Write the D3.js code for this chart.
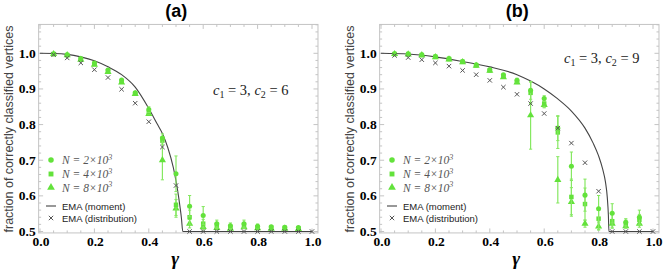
<!DOCTYPE html>
<html>
<head>
<meta charset="utf-8">
<script src="https://cdn.jsdelivr.net/npm/d3@7"></script>
<style>
  body { margin: 0; background: #fff; }
  svg { display: block; }
</style>
</head>
<body>
<div id="chart"></div>
<script>
// gamma values of the simulation points
const gammaSim = [0.05, 0.1, 0.15, 0.2, 0.25, 0.3, 0.35, 0.4, 0.45, 0.5, 0.55, 0.6, 0.65, 0.7, 0.75, 0.8, 0.85, 0.9, 0.95];
const gammaDist = [0.05, 0.1, 0.15, 0.2, 0.25, 0.3, 0.35, 0.4, 0.45, 0.5, 0.55, 0.6, 0.65, 0.7, 0.75, 0.8, 0.85, 0.9, 0.95, 1.0];

// panel (a): c1 = 3, c2 = 6
const aN2 = [0.998, 0.996, 0.985, 0.973, 0.953, 0.925, 0.889, 0.842, 0.762, 0.662, 0.571, 0.545, 0.522, 0.516, 0.522, 0.515, 0.513, 0.512, 0.511];
const aN2err = [0.001, 0.002, 0.003, 0.003, 0.004, 0.004, 0.005, 0.008, 0.012, 0.05, 0.03, 0.025, 0.01, 0.008, 0.01, 0.006, 0.005, 0.004, 0.004];
const aN4 = [0.998, 0.995, 0.983, 0.970, 0.950, 0.921, 0.887, 0.835, 0.755, 0.575, 0.540, 0.522, 0.517, 0.512, 0.517, 0.512, 0.511, 0.510, 0.509];
const aN4err = [0.001, 0.002, 0.002, 0.003, 0.003, 0.004, 0.004, 0.006, 0.01, 0.03, 0.02, 0.012, 0.008, 0.006, 0.008, 0.005, 0.004, 0.004, 0.003];
const aN8 = [0.998, 0.995, 0.982, 0.968, 0.948, 0.918, 0.886, 0.830, 0.700, 0.565, 0.522, 0.513, 0.510, 0.508, 0.512, 0.509, 0.508, 0.508, 0.507];
const aN8err = [0.001, 0.001, 0.002, 0.002, 0.003, 0.003, 0.003, 0.005, 0.055, 0.025, 0.012, 0.008, 0.005, 0.004, 0.005, 0.004, 0.003, 0.003, 0.003];
const aDist = [0.996, 0.987, 0.973, 0.954, 0.932, 0.899, 0.860, 0.808, 0.737, 0.629, 0.5, 0.5, 0.5, 0.5, 0.5, 0.5, 0.5, 0.5, 0.5, 0.5];
const aMomentGamma = [0, 0.05, 0.1, 0.15, 0.2, 0.25, 0.3, 0.35, 0.4, 0.43, 0.45, 0.47, 0.49, 0.5, 0.51, 0.52, 0.525, 1.0];
const aMoment = [1.0, 0.9995, 0.997, 0.99, 0.979, 0.962, 0.94, 0.905, 0.845, 0.803, 0.775, 0.735, 0.68, 0.642, 0.595, 0.537, 0.5, 0.5];

// panel (b): c1 = 3, c2 = 9
const bN2 = [0.999, 0.998, 0.996, 0.991, 0.985, 0.977, 0.968, 0.954, 0.940, 0.924, 0.896, 0.873, 0.790, 0.683, 0.602, 0.564, 0.551, 0.526, 0.540];
const bN2err = [0.001, 0.001, 0.002, 0.002, 0.003, 0.003, 0.003, 0.004, 0.005, 0.006, 0.025, 0.008, 0.035, 0.04, 0.045, 0.037, 0.027, 0.01, 0.02];
const bN4 = [0.998, 0.998, 0.995, 0.990, 0.984, 0.976, 0.966, 0.952, 0.935, 0.920, 0.889, 0.859, 0.778, 0.597, 0.577, 0.536, 0.529, 0.522, 0.533];
const bN4err = [0.001, 0.001, 0.002, 0.002, 0.002, 0.003, 0.003, 0.004, 0.004, 0.005, 0.03, 0.01, 0.045, 0.05, 0.045, 0.03, 0.02, 0.01, 0.015];
const bN8 = [0.998, 0.997, 0.995, 0.989, 0.983, 0.975, 0.965, 0.951, 0.933, 0.918, 0.826, 0.855, 0.645, 0.583, 0.522, 0.514, 0.522, 0.515, 0.522];
const bN8err = [0.001, 0.001, 0.001, 0.002, 0.002, 0.002, 0.003, 0.003, 0.004, 0.005, 0.095, 0.008, 0.065, 0.04, 0.01, 0.01, 0.01, 0.006, 0.01];
const bDist = [0.994, 0.988, 0.982, 0.973, 0.964, 0.952, 0.940, 0.924, 0.905, 0.885, 0.859, 0.831, 0.790, 0.748, 0.693, 0.613, 0.5, 0.5, 0.5, 0.5];
const bMomentGamma = [0, 0.1, 0.2, 0.3, 0.4, 0.5, 0.55, 0.6, 0.65, 0.7, 0.75, 0.78, 0.8, 0.815, 0.825, 0.832, 0.836, 0.838, 1.0];
const bMoment = [1.0, 0.998, 0.99, 0.977, 0.962, 0.94, 0.922, 0.9, 0.872, 0.838, 0.79, 0.748, 0.712, 0.675, 0.64, 0.595, 0.545, 0.5, 0.5];

// ticks and labels
const xTicks = [0, 0.2, 0.4, 0.6, 0.8, 1.0];
const yTicks = [0.5, 0.6, 0.7, 0.8, 0.9, 1.0];
const legendLabels = ["2×10", "4×10", "8×10"];
const titles = ["(a)", "(b)"];
const c2Values = ["6", "9"];

const W = 664, H = 270;
const green = "#63e23b", greenErr = "#86e862", grey = "#555";
const serif = "'Liberation Serif', 'Times New Roman', serif";
const sans = "'Liberation Sans', Arial, sans-serif";

const svg = d3.select("#chart").append("svg")
  .attr("width", W).attr("height", H);

function drawPanel(i, left, sims, dist, momentG, moment) {
  const x = d3.scaleLinear().domain([0, 1]).range([left, left + 272]);
  const y = d3.scaleLinear().domain([0.5, 1.0]).range([231.5, 53.3]);
  const x0 = x(-0.005), x1 = x(1.022), y0 = y(0.496), y1 = y(1.081);

  const g = svg.append("g");

  // frame
  g.append("rect")
    .attr("x", x0).attr("y", y1)
    .attr("width", x1 - x0).attr("height", y0 - y1)
    .attr("fill", "none").attr("stroke", "#c4c4c4").attr("stroke-width", 1);

  // ticks on all four sides
  const xMinor = d3.range(0, 1.0001, 0.05);
  const yMinor = d3.range(0.5, 1.0801, 0.02);
  xMinor.forEach(v => {
    const major = Math.abs(v / 0.2 - Math.round(v / 0.2)) < 1e-6;
    const len = major ? 4.5 : 2.5;
    g.append("line").attr("x1", x(v)).attr("x2", x(v)).attr("y1", y0).attr("y2", y0 - len)
      .attr("stroke", "#c4c4c4");
    g.append("line").attr("x1", x(v)).attr("x2", x(v)).attr("y1", y1).attr("y2", y1 + len)
      .attr("stroke", "#c4c4c4");
  });
  yMinor.forEach(v => {
    const major = Math.abs(v * 10 - Math.round(v * 10)) < 1e-6;
    const len = major ? 4.5 : 2.5;
    g.append("line").attr("x1", x0).attr("x2", x0 + len).attr("y1", y(v)).attr("y2", y(v))
      .attr("stroke", "#c4c4c4");
    g.append("line").attr("x1", x1).attr("x2", x1 - len).attr("y1", y(v)).attr("y2", y(v))
      .attr("stroke", "#c4c4c4");
  });

  // tick labels
  g.selectAll(".xl").data(xTicks).enter().append("text")
    .attr("x", d => x(d) + 1).attr("y", 246)
    .attr("text-anchor", "middle")
    .style("font-family", serif).style("font-weight", "bold").style("font-size", "13.5px")
    .text(d => d.toFixed(1));
  g.selectAll(".yl").data(yTicks).enter().append("text")
    .attr("x", x0 - 3).attr("y", d => y(d) + 4.5)
    .attr("text-anchor", "end")
    .style("font-family", serif).style("font-weight", "bold").style("font-size", "13.5px")
    .text(d => d.toFixed(1));

  // axis titles
  g.append("text")
    .attr("transform", `translate(${left - 27.5},129) rotate(-90)`)
    .attr("text-anchor", "middle")
    .style("font-family", sans).style("font-size", "12.5px").style("fill", "#444")
    .text("fraction of correctly classified vertices");
  g.append("text")
    .attr("x", (x0 + x1) / 2 - 3).attr("y", 265)
    .attr("text-anchor", "middle")
    .style("font-family", serif).style("font-weight", "bold").style("font-style", "italic")
    .style("font-size", "19px")
    .text("γ");
  g.append("text")
    .attr("x", (x0 + x1) / 2 - 2).attr("y", 17)
    .attr("text-anchor", "middle")
    .style("font-family", sans).style("font-weight", "bold").style("font-size", "18px")
    .text(titles[i]);

  // parameter annotation
  const ann = g.append("text")
    .attr("x", i === 0 ? left + 173 : left + 183).attr("y", i === 0 ? 95 : 63)
    .style("font-family", serif).style("font-size", "14.5px").style("fill", "#222");
  ann.append("tspan").style("font-style", "italic").text("c");
  ann.append("tspan").attr("dy", 3).style("font-size", "10px").text("1");
  ann.append("tspan").attr("dy", -3).text(" = 3,  ");
  ann.append("tspan").style("font-style", "italic").text("c");
  ann.append("tspan").attr("dy", 3).style("font-size", "10px").text("2");
  ann.append("tspan").attr("dy", -3).text(" = " + c2Values[i]);

  // EMA moment curve
  g.append("path")
    .datum(momentG.map((gm, k) => [gm, moment[k]]))
    .attr("fill", "none").attr("stroke", "#444").attr("stroke-width", 1.1)
    .attr("d", d3.line().x(d => x(d[0])).y(d => y(d[1])).curve(d3.curveMonotoneX));

  const shapes = [d3.symbolCircle, d3.symbolSquare, d3.symbolTriangle];
  const sizes = [20, 20, 22];

  // error bars then markers, in reverse so N=2e3 sits on top
  [2, 1, 0].forEach(s => {
    const vals = sims[s][0], errs = sims[s][1];
    const pts = gammaSim.map((gm, k) => ({ gm, v: vals[k], e: errs[k] }));
    pts.forEach(p => {
      if (p.e < 0.006) return;
      const xs = x(p.gm);
      g.append("line").attr("x1", xs).attr("x2", xs)
        .attr("y1", y(p.v - p.e)).attr("y2", y(p.v + p.e))
        .attr("stroke", greenErr).attr("stroke-width", 1.2);
      [p.v - p.e, p.v + p.e].forEach(c => {
        g.append("line").attr("x1", xs - 1.6).attr("x2", xs + 1.6)
          .attr("y1", y(c)).attr("y2", y(c))
          .attr("stroke", greenErr).attr("stroke-width", 1);
      });
    });
    g.selectAll(".m" + s).data(pts).enter().append("path")
      .attr("transform", p => `translate(${x(p.gm)},${y(p.v)})`)
      .attr("d", d3.symbol().type(shapes[s]).size(sizes[s]))
      .attr("fill", green);
  });

  // EMA distribution crosses
  g.selectAll(".cross").data(gammaDist.map((gm, k) => [gm, dist[k]])).enter().append("path")
    .attr("transform", d => `translate(${x(d[0])},${y(d[1])})`)
    .attr("d", "M-2.2,-2.2L2.2,2.2M-2.2,2.2L2.2,-2.2")
    .attr("stroke", grey).attr("stroke-width", 1);

  // legend
  const lx = left + 11, tx = left + 22;
  const rows = [160, 174, 187.5, 206, 218];
  [0, 1, 2].forEach(s => {
    g.append("path")
      .attr("transform", `translate(${lx},${rows[s]})`)
      .attr("d", d3.symbol().type(shapes[s]).size(sizes[s] + 4))
      .attr("fill", green);
    const t = g.append("text").attr("x", tx).attr("y", rows[s] + 4)
      .style("font-family", serif).style("font-style", "italic").style("font-size", "11.5px")
      .style("fill", "#555");
    t.append("tspan").text("N = " + legendLabels[s]);
    t.append("tspan").attr("dy", -4.5).style("font-size", "8px").text("3");
  });
  g.append("line").attr("x1", lx - 5).attr("x2", lx + 5).attr("y1", rows[3]).attr("y2", rows[3])
    .attr("stroke", "#444").attr("stroke-width", 1.1);
  g.append("path").attr("transform", `translate(${lx},${rows[4]})`)
    .attr("d", "M-2.2,-2.2L2.2,2.2M-2.2,2.2L2.2,-2.2").attr("stroke", grey);
  ["EMA (moment)", "EMA (distribution)"].forEach((lab, k) => {
    g.append("text").attr("x", tx).attr("y", rows[3 + k] + 3.5)
      .style("font-family", sans).style("font-size", "9.5px").style("fill", "#222")
      .text(lab);
  });
}

drawPanel(0, 40, [[aN2, aN2err], [aN4, aN4err], [aN8, aN8err]], aDist, aMomentGamma, aMoment);
drawPanel(1, 381, [[bN2, bN2err], [bN4, bN4err], [bN8, bN8err]], bDist, bMomentGamma, bMoment);
</script>
</body>
</html>
